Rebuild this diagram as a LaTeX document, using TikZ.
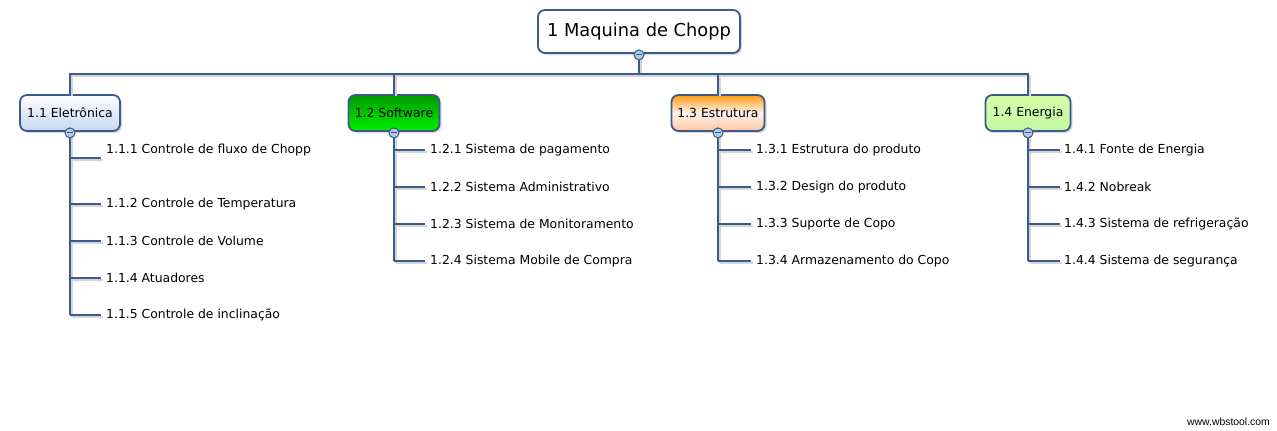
\documentclass[tikz,border=0pt]{standalone}
\usepackage{fontspec}
\setmainfont{DejaVu Sans}
\newfontfamily\urlfont{Liberation Sans}
\usepackage{tikz}
\usetikzlibrary{shapes,shadows,positioning}
\definecolor{wbsline}{HTML}{3C5A8A}
\definecolor{wbsshade}{HTML}{D2D6DC}
\definecolor{wbstoggle}{HTML}{B4C8E4}
\definecolor{blueA}{HTML}{C4D8EF}
\definecolor{greenA}{HTML}{009A00}
\definecolor{greenB}{HTML}{00F000}
\definecolor{orangeA}{HTML}{FF9A10}
\definecolor{orangeB}{HTML}{FFF4EE}
\definecolor{orangeC}{HTML}{FFC4A0}
\definecolor{limeA}{HTML}{D4FFA8}
\definecolor{limeB}{HTML}{C4F8A4}

\tikzset{
  wbsbox/.style={draw=wbsline, line width=1.8pt, rounded corners=7pt,
    minimum height=36, inner sep=2pt,
    drop shadow={shadow xshift=2pt, shadow yshift=-2pt, opacity=0.3}},
  wbsedge/.style={draw=wbsline, line width=2pt,
    preaction={draw=wbsshade, line width=2pt,
      transform canvas={shift={(1.5pt,-1.5pt)}}}},
  leaf/.style={anchor=west, inner sep=0pt},
  toggle/.style={circle, draw=wbsline, fill=wbstoggle, line width=1pt,
    minimum size=10pt, inner sep=0pt}
}

\begin{document}
\begin{tikzpicture}[x=1pt,y=-1pt,font=\fontsize{12.4}{14}\selectfont]
\useasboundingbox (0,0) rectangle (1277,431);

% Root block
\node[wbsbox,
    fill=white,
    minimum width=202,
    minimum height=43,
    font=\fontsize{17.8}{20}\selectfont
] (root) at (639,31.5) {1 Maquina de Chopp\hspace{3pt}};

% Level 1 blocks
\node[wbsbox,
    minimum width=100,
    top color=white, bottom color=blueA
] (block11) at (70,113) {1.1 Eletrônica\hspace{2pt}};

\node[wbsbox,
    minimum width=91,
    top color=greenA, bottom color=greenB
] (block12) at (394,113) {1.2 Software};

\node[wbsbox,
    minimum width=93,
    top color=orangeA, bottom color=orangeC, middle color=orangeB
] (block13) at (718,113) {1.3 Estrutura};

\node[wbsbox,
    minimum width=85,
    top color=limeA, bottom color=limeB
] (block14) at (1028,113) {1.4 Energia};

% Bus from root to level 1
\coordinate (busL) at (70,74);
\draw[wbsedge] (root.south) -- (root.south |- busL);
\draw[wbsedge] (block11.north) |- (block14.north |- busL) -- (block14.north);
\draw[wbsedge] (block12.north) -- (block12.north |- busL);
\draw[wbsedge] (block13.north) -- (block13.north |- busL);

% Branches of 1.1
\coordinate (br111) at (101,158);
\draw[wbsedge] (block11.south) -- (block11.south |- 0,315);
\draw[wbsedge] (br111) -- (br111 -| block11.south);
\node[leaf, right=5pt of br111, yshift=8pt] (leaf111) {1.1.1 Controle de fluxo de Chopp};
\foreach \y/\txt [count=\i from 2] in {204/{1.1.2 Controle de Temperatura},
    241/{1.1.3 Controle de Volume}, 278/{1.1.4 Atuadores},
    315/{1.1.5 Controle de inclinação}} {
  \coordinate (br11\i) at (101,\y);
  \draw[wbsedge] (br11\i) -- (br11\i -| block11.south);
  \node[leaf, right=5pt of br11\i] (leaf11\i) {\txt};
}

% Branches of 1.2
\draw[wbsedge] (block12.south) -- (block12.south |- 0,261);
\foreach \y/\txt [count=\i] in {150/{1.2.1 Sistema de pagamento},
    187/{1.2.2 Sistema Administrativo}, 224/{1.2.3 Sistema de Monitoramento},
    261/{1.2.4 Sistema Mobile de Compra}} {
  \coordinate (br12\i) at (425,\y);
  \draw[wbsedge] (br12\i) -- (br12\i -| block12.south);
  \node[leaf, right=5pt of br12\i] (leaf12\i) {\txt};
}

% Branches of 1.3
\draw[wbsedge] (block13.south) -- (block13.south |- 0,261);
\foreach \y/\txt [count=\i] in {150/{1.3.1 Estrutura do produto},
    187/{1.3.2 Design do produto}, 224/{1.3.3 Suporte de Copo},
    261/{1.3.4 Armazenamento do Copo}} {
  \coordinate (br13\i) at (751,\y);
  \draw[wbsedge] (br13\i) -- (br13\i -| block13.south);
  \node[leaf, right=5pt of br13\i] (leaf13\i) {\txt};
}

% Branches of 1.4
\draw[wbsedge] (block14.south) -- (block14.south |- 0,261);
\foreach \y/\txt [count=\i] in {150/{1.4.1 Fonte de Energia},
    187/{1.4.2 Nobreak}, 224/{1.4.3 Sistema de refrigeração},
    261/{1.4.4 Sistema de segurança}} {
  \coordinate (br14\i) at (1060,\y);
  \draw[wbsedge] (br14\i) -- (br14\i -| block14.south);
  \node[leaf, right=4pt of br14\i] (leaf14\i) {\txt};
}

% Collapse toggles
\foreach \b in {root,block11,block12,block13,block14} {
  \node[toggle] (tog\b) at ([yshift=-1pt]\b.south) {};
  \draw[wbsline, line width=1pt] ([xshift=-2.8pt]tog\b.center) -- ([xshift=2.8pt]tog\b.center);
}

% Footer
\node[anchor=east, inner sep=0pt, font=\urlfont\fontsize{10.4}{12}\selectfont] (site) at (1270,422) {www.wbstool.com};

\end{tikzpicture}
\end{document}
